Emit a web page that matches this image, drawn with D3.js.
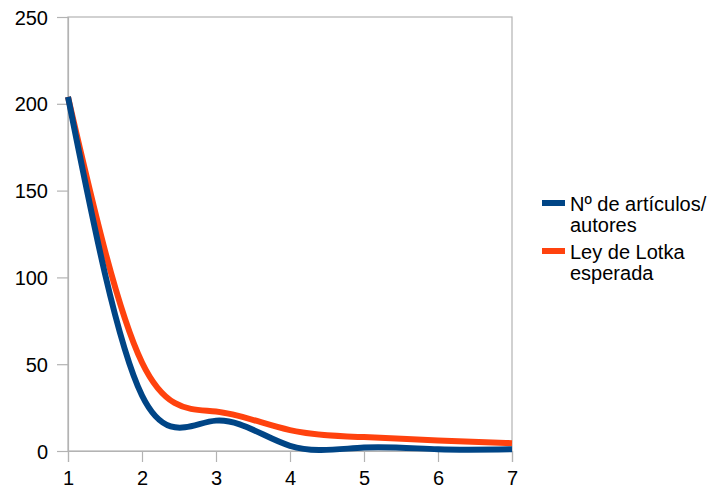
<!DOCTYPE html>
<html><head><meta charset="utf-8">
<script src="https://cdn.jsdelivr.net/npm/d3@7"></script>
<style>body{margin:0;background:#fff}svg{display:block}text{font-family:"Liberation Sans",Arial,sans-serif;fill:#000}</style>
</head><body>
<svg id="c" width="712" height="494"></svg>
<script>
const xValues = [1, 2, 3, 4, 5, 6, 7];
const articulosAutores = [204, 32, 17.5, 3, 2, 1, 1];
const lotkaEsperada = [204, 51, 22.7, 12, 8, 6, 4.5];
const yTicks = [0, 50, 100, 150, 200, 250];
const xTicks = [1, 2, 3, 4, 5, 6, 7];
const seriesNames = ["Nº de artículos/|autores", "Ley de Lotka|esperada"];
const seriesColors = ["#004586", "#ff420e"];

const svg = d3.select("#c");
const x = d3.scaleLinear().domain([1, 7]).range([68, 512]);
const y = d3.scaleLinear().domain([0, 250]).range([451, 17]);
const grid = "#b3b3b3";

svg.append("rect").attr("x", 68).attr("y", 17).attr("width", 444).attr("height", 434)
  .attr("fill", "none").attr("stroke", grid).attr("stroke-width", 1.2);

const yAxis = svg.append("g").attr("transform", "translate(68,0)")
  .call(d3.axisLeft(y).tickValues(yTicks).tickSize(11).tickPadding(9).tickFormat(d3.format("d")));
const xAxis = svg.append("g").attr("transform", "translate(0,451)")
  .call(d3.axisBottom(x).tickValues(xTicks).tickSize(11).tickPadding(9).tickFormat(d3.format("d")));
[yAxis, xAxis].forEach(a => {
  a.select(".domain").attr("stroke", grid).attr("stroke-width", 1.2);
  a.selectAll(".tick line").attr("stroke", grid).attr("stroke-width", 1.2);
  a.selectAll("text").attr("font-size", 20).attr("font-family", '"Liberation Sans",Arial,sans-serif').attr("fill", "#000");
});
yAxis.selectAll("text").attr("dy", "0.35em");

const line = d3.line().x(d => x(d[0])).y(d => y(d[1])).curve(d3.curveNatural);
[lotkaEsperada, articulosAutores].forEach((vals, i) => {
  const idx = i === 0 ? 1 : 0;
  svg.append("path").datum(xValues.map((v, j) => [v, vals[j]]))
    .attr("d", line).attr("fill", "none").attr("stroke", seriesColors[idx])
    .attr("stroke-width", 6).attr("stroke-linejoin", "round");
});

const legendTop = [203, 251];
seriesNames.forEach((name, i) => {
  const g = svg.append("g");
  g.append("line").attr("x1", 542).attr("x2", 565).attr("y1", legendTop[i]).attr("y2", legendTop[i])
    .attr("stroke", seriesColors[i]).attr("stroke-width", 6);
  name.split("|").forEach((t, k) => {
    g.append("text").attr("x", 570).attr("y", legendTop[i] + 8 + k * 21)
      .attr("font-size", 20).text(t);
  });
});
</script>
</body></html>
